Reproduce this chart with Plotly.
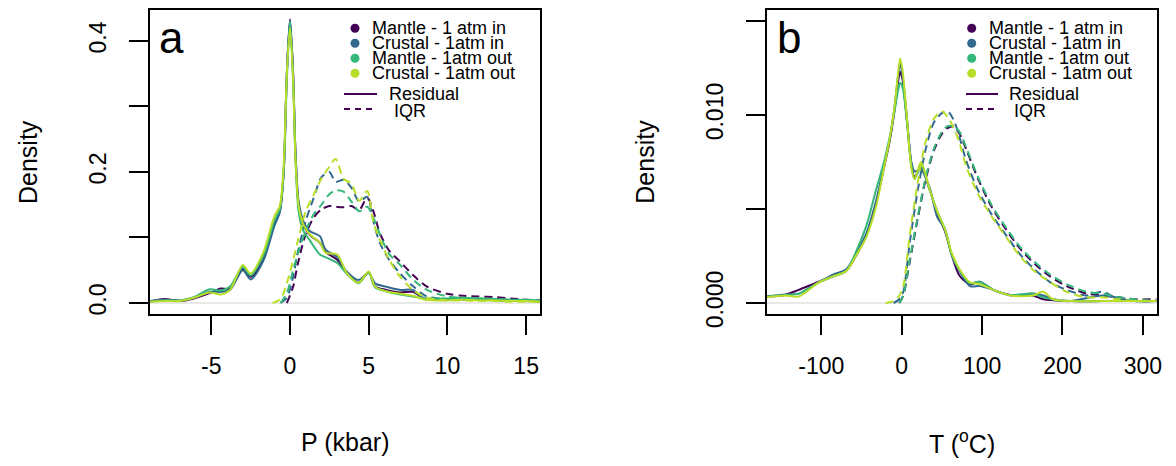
import plotly.graph_objects as go

W, H = 1176, 466
OFF = 8  # the page body adds an 8px margin; shift everything back by it

# ---- data: panel a (pressure residuals, kbar) ----
p_x = [-8.9, -8, -7, -6.1, -5.1, -4.4, -3.8, -3.0, -2.5, -1.7, -1.0, -0.65, -0.4, -0.2, 0,
       0.2, 0.35, 0.55, 0.85, 1.25, 1.9, 2.25, 3.0, 3.6, 4.35, 5.0, 5.4, 6.1, 7.0, 7.8, 8.6,
       10, 11, 12, 13, 14, 15, 15.9]
p_res_mantle_in = [0.002, 0.006, 0.003, 0.007, 0.015, 0.022, 0.022, 0.052, 0.04, 0.066, 0.12, 0.14,
                   0.2, 0.35, 0.433, 0.35, 0.23, 0.15, 0.12, 0.104, 0.092, 0.078, 0.066, 0.047, 0.031,
                   0.047, 0.025, 0.02, 0.016, 0.017, 0.006, 0.006, 0.005, 0.005, 0.006, 0.004, 0.003, 0.003]
p_res_crustal_in = [0.003, 0.005, 0.004, 0.008, 0.017, 0.017, 0.02, 0.05, 0.036, 0.064, 0.117, 0.138,
                    0.2, 0.35, 0.432, 0.35, 0.23, 0.155, 0.125, 0.11, 0.102, 0.082, 0.07, 0.048, 0.035,
                    0.046, 0.03, 0.025, 0.02, 0.02, 0.006, 0.005, 0.005, 0.006, 0.005, 0.004, 0.003, 0.003]
p_res_mantle_out = [0.002, 0.004, 0.004, 0.009, 0.021, 0.019, 0.025, 0.055, 0.042, 0.072, 0.125, 0.143,
                    0.2, 0.34, 0.43, 0.34, 0.22, 0.14, 0.11, 0.096, 0.074, 0.07, 0.061, 0.045, 0.03,
                    0.047, 0.024, 0.018, 0.013, 0.01, 0.007, 0.007, 0.008, 0.007, 0.006, 0.005, 0.005, 0.004]
p_res_crustal_out = [0.002, 0.003, 0.003, 0.008, 0.016, 0.013, 0.02, 0.058, 0.045, 0.077, 0.132, 0.148,
                     0.21, 0.35, 0.42, 0.34, 0.22, 0.148, 0.12, 0.105, 0.092, 0.077, 0.074, 0.046, 0.031,
                     0.048, 0.025, 0.018, 0.014, 0.011, 0.005, 0.004, 0.005, 0.004, 0.004, 0.003, 0.003, 0.002]

p_iqr_x = [-1.1, -0.6, -0.2, 0.2, 0.5, 1.0, 1.5, 2.0, 2.5, 2.9, 3.4, 3.9, 4.4, 4.9, 5.3, 5.7, 6.3,
           7.0, 7.8, 8.7, 10, 11, 12, 13, 14, 15, 15.9]
p_iqr_mantle_in = [None, None, 0, 0.025, 0.06, 0.105, 0.13, 0.143, 0.148, 0.147, 0.146, 0.148, 0.142,
                   0.161, 0.14, 0.107, 0.08, 0.063, 0.043, 0.025, 0.014, 0.011, 0.01, 0.009, 0.007, 0.005, 0.004]
p_iqr_crustal_in = [None, 0, 0.008, 0.04, 0.078, 0.125, 0.16, 0.192, 0.2, 0.185, 0.188, 0.176, 0.155,
                    0.162, 0.125, 0.092, 0.066, 0.045, 0.026, 0.01, 0.006, 0.005, 0.005, 0.004, 0.003, 0.003, 0.002]
p_iqr_mantle_out = [None, 0, 0.015, 0.05, 0.075, 0.11, 0.135, 0.15, 0.166, 0.172, 0.17, 0.155, 0.14,
                    0.147, 0.13, 0.105, 0.075, 0.058, 0.036, 0.02, 0.01, 0.008, 0.007, 0.006, 0.005, 0.004, 0.004]
p_iqr_crustal_out = [0, 0.006, 0.03, 0.065, 0.095, 0.14, 0.165, 0.19, 0.208, 0.22, 0.19, 0.182, 0.156,
                     0.171, 0.123, 0.097, 0.066, 0.04, 0.02, 0.008, 0.004, 0.004, 0.003, 0.003, 0.002, 0.002, 0.002]

# ---- data: panel b (temperature residuals, degC) ----
t_x = [-168, -145, -128, -103, -86, -69, -57, -44, -32, -22, -15, -9, -5, -2, 1, 7, 12, 16, 24, 35,
       44, 54, 62, 72, 85, 97, 114, 135, 163, 176, 188, 210, 250, 290, 317]
t_res_mantle_in = [0.00034, 0.00043, 0.0007, 0.00113, 0.0014, 0.00172, 0.0025, 0.0036, 0.0053, 0.0072,
                   0.0086, 0.0102, 0.0116, 0.0123, 0.0119, 0.0095, 0.0074, 0.0067, 0.0072, 0.006, 0.0048,
                   0.0038, 0.0026, 0.00145, 0.001, 0.00113, 0.0007, 0.00043, 0.0004, 0.0002, 0.00015,
                   0.0001, 0.0001, 0.0001, 0.0001]
t_res_crustal_in = [0.00034, 0.00045, 0.0005, 0.0011, 0.0015, 0.0018, 0.0026, 0.0037, 0.0054, 0.0073,
                    0.0087, 0.0104, 0.0119, 0.01275, 0.0121, 0.0096, 0.0075, 0.007, 0.0071, 0.0061, 0.0046,
                    0.0039, 0.0026, 0.0017, 0.0009, 0.0009, 0.0007, 0.0004, 0.0005, 0.0004, 0.0002,
                    0.0001, 0.0004, 0.0001, 0.0001]
t_res_mantle_out = [0.00034, 0.00043, 0.0005, 0.0011, 0.0014, 0.0017, 0.0027, 0.0041, 0.006, 0.0075,
                    0.0088, 0.0102, 0.0112, 0.0117, 0.0115, 0.0094, 0.0073, 0.0066, 0.0073, 0.006, 0.0049,
                    0.0039, 0.0026, 0.00175, 0.00105, 0.00113, 0.0007, 0.00043, 0.0005, 0.0003, 0.0002,
                    0.0001, 0.0001, 0.0001, 0.0001]
t_res_crustal_out = [0.0003, 0.0004, 0.00035, 0.0011, 0.0014, 0.0017, 0.0025, 0.0035, 0.0051, 0.0072,
                     0.0087, 0.0104, 0.012, 0.013, 0.0124, 0.0096, 0.0072, 0.0066, 0.0075, 0.006, 0.0049,
                     0.0039, 0.0027, 0.0018, 0.0011, 0.001, 0.0007, 0.0004, 0.0004, 0.0006, 0.0002,
                     0.0001, 0.0001, 0.0001, 0.0001]

t_iqr_x = [-20, -10, -3, 2, 10, 20, 30, 40, 50, 57, 65, 72, 80, 95, 112, 130, 147, 165, 185, 205,
           230, 250, 270, 290, 317]
t_iqr_mantle_in = [None, None, 0, 0.0004, 0.0022, 0.0045, 0.0066, 0.0081, 0.009, 0.0093, 0.0094, 0.009,
                   0.0082, 0.0066, 0.0051, 0.0039, 0.0029, 0.0021, 0.0014, 0.0009, 0.0005, 0.0004,
                   0.0003, 0.0002, 0.0002]
t_iqr_crustal_in = [None, 0, 0.0002, 0.0006, 0.0032, 0.006, 0.0082, 0.0096, 0.0101, 0.0102, 0.0097,
                    0.0088, 0.0076, 0.006, 0.0047, 0.0036, 0.0026, 0.0018, 0.0011, 0.0007, 0.0004,
                    0.0006, 0.0002, 0.0001, 0.0001]
t_iqr_mantle_out = [None, None, 0, 0.0004, 0.0023, 0.0046, 0.0067, 0.0082, 0.0091, 0.0094, 0.0094,
                    0.0091, 0.0083, 0.0067, 0.0052, 0.004, 0.003, 0.0022, 0.0015, 0.001, 0.0006,
                    0.0005, 0.0003, 0.0002, 0.0001]
t_iqr_crustal_out = [0, 0.0001, 0.0004, 0.0009, 0.0036, 0.0064, 0.0086, 0.0098, 0.0102, 0.0099, 0.0093,
                     0.0085, 0.0073, 0.0058, 0.0046, 0.0035, 0.0025, 0.0017, 0.0011, 0.0006, 0.0003,
                     0.0003, 0.0002, 0.0001, 0.0001]

group_names = ["Mantle - 1 atm in", "Crustal - 1atm in", "Mantle - 1atm out", "Crustal - 1atm out"]
colors = ["#440154", "#31688E", "#35B779", "#B8DE29"]
line_names = ["Residual", " IQR"]

p_ticks = [-5, 0, 5, 10, 15]
p_ticklabels = ["-5", "0", "5", "10", "15"]
t_ticks = [-100, 0, 100, 200, 300]
t_ticklabels = ["-100", "0", "100", "200", "300"]
p_yticks = [0, 0.2, 0.4]
p_yticklabels = ["0.0", "0.2", "0.4"]
p_yminor = [0.1, 0.3]
t_yticks = [0, 0.010]
t_yticklabels = ["0.000", "0.010"]
t_yminor = [0.005, 0.015]

FONT = "Liberation Sans, Arial, sans-serif"


def fx(px):
    return (px - OFF) / W


def fy(py):
    return 1 - (py - OFF) / H


fig = go.Figure()

panels = [
    ("x", "y", p_x, [p_res_mantle_in, p_res_crustal_in, p_res_mantle_out, p_res_crustal_out],
     p_iqr_x, [p_iqr_mantle_in, p_iqr_crustal_in, p_iqr_mantle_out, p_iqr_crustal_out]),
    ("x2", "y2", t_x, [t_res_mantle_in, t_res_crustal_in, t_res_mantle_out, t_res_crustal_out],
     t_iqr_x, [t_iqr_mantle_in, t_iqr_crustal_in, t_iqr_mantle_out, t_iqr_crustal_out]),
]

for xa, ya, rx, res, qx, iqr in panels:
    for i in range(4):
        fig.add_trace(go.Scatter(x=rx, y=res[i], mode="lines", xaxis=xa, yaxis=ya,
                                 line=dict(color=colors[i], width=2, shape="spline", smoothing=0.8),
                                 showlegend=False, hoverinfo="skip"))
        fig.add_trace(go.Scatter(x=qx, y=iqr[i], mode="lines", xaxis=xa, yaxis=ya,
                                 line=dict(color=colors[i], width=2, shape="spline", smoothing=0.8,
                                           dash="8px,5px"),
                                 showlegend=False, hoverinfo="skip"))

axis_common = dict(showline=True, mirror=True, linecolor="black", linewidth=1.6,
                   ticks="outside", ticklen=19, tickwidth=1.5, tickcolor="black",
                   showgrid=False, zeroline=False, automargin=False,
                   tickfont=dict(family=FONT, size=23, color="black"))
minor_common = dict(ticks="outside", ticklen=19, tickwidth=1.5, tickcolor="black", showgrid=False)

y_dom = [fy(314), fy(10)]
fig.update_layout(
    width=W, height=H,
    margin=dict(l=0, r=0, t=0, b=0, autoexpand=False),
    paper_bgcolor="white", plot_bgcolor="white",
    xaxis=dict(domain=[fx(150), fx(540)], range=[-8.89, 15.88], anchor="y",
               tickvals=p_ticks, ticktext=p_ticklabels, ticklabelstandoff=12, **axis_common),
    yaxis=dict(domain=y_dom, range=[-0.0168, 0.4473], anchor="x",
               tickvals=p_yticks, ticktext=p_yticklabels, tickangle=-90,
               minor=dict(tickvals=p_yminor, **minor_common),
               ticklabelstandoff=14, **axis_common),
    xaxis2=dict(domain=[fx(766.7), fx(1156.7)], range=[-167.9, 317.2], anchor="y2",
                tickvals=t_ticks, ticktext=t_ticklabels, ticklabelstandoff=12, **axis_common),
    yaxis2=dict(domain=y_dom, range=[-0.000585, 0.015585], anchor="x2",
                tickvals=t_yticks, ticktext=t_yticklabels, tickangle=-90,
                minor=dict(tickvals=t_yminor, **minor_common),
                ticklabelstandoff=14, **axis_common),
)

shapes = []
annotations = []

# light zero reference lines
for xa, ya in [("x", "y"), ("x2", "y2")]:
    shapes.append(dict(type="line", xref=xa + " domain", yref=ya, x0=0, x1=1, y0=0, y1=0,
                       line=dict(color="#e8e8e8", width=2), layer="below"))

# panel letters, axis titles, legends
panel_geo = [
    dict(left=150, right=540, letter="a", lx=157, marker_x=355, text_x=370,
         line_x0=344, line_x1=377, ltext_x=387, xtitle="P (kbar)"),
    dict(left=766.7, right=1156.7, letter="b", lx=775, marker_x=971.7, text_x=987,
         line_x0=966, line_x1=998, ltext_x=1007, xtitle="T (<sup>o</sup>C)"),
]
rows_y = [28.3, 43.3, 58.3, 73.3]
for g in panel_geo:
    annotations.append(dict(x=fx(g["lx"]), y=fy(38), xref="paper", yref="paper", text=g["letter"],
                            showarrow=False, xanchor="left", yanchor="middle",
                            font=dict(family=FONT, size=44, color="black")))
    annotations.append(dict(x=fx((g["left"] + g["right"]) / 2), y=fy(442), xref="paper", yref="paper",
                            text=g["xtitle"], showarrow=False, xanchor="center", yanchor="middle",
                            font=dict(family=FONT, size=25, color="black")))
    annotations.append(dict(x=fx(g["left"] - 122), y=fy(162), xref="paper", yref="paper",
                            text="Density", textangle=-90, showarrow=False,
                            xanchor="center", yanchor="middle",
                            font=dict(family=FONT, size=25, color="black")))
    for i, name in enumerate(group_names):
        r = 4.5
        shapes.append(dict(type="circle", xref="paper", yref="paper",
                           x0=fx(g["marker_x"] - r), x1=fx(g["marker_x"] + r),
                           y0=fy(rows_y[i] + r), y1=fy(rows_y[i] - r),
                           fillcolor=colors[i], line=dict(color=colors[i], width=0)))
        annotations.append(dict(x=fx(g["text_x"]), y=fy(rows_y[i]), xref="paper", yref="paper",
                                text=name, showarrow=False, xanchor="left", yanchor="middle",
                                font=dict(family=FONT, size=18, color="black")))
    for j, (lname, dash, ly) in enumerate(zip(line_names, ["solid", "6px,5px"], [94, 109])):
        shapes.append(dict(type="line", xref="paper", yref="paper",
                           x0=fx(g["line_x0"]), x1=fx(g["line_x1"]), y0=fy(ly), y1=fy(ly),
                           line=dict(color=colors[0], width=2, dash=dash)))
        annotations.append(dict(x=fx(g["ltext_x"]), y=fy(ly + 2 * j), xref="paper", yref="paper",
                                text=lname, showarrow=False, xanchor="left", yanchor="middle",
                                font=dict(family=FONT, size=18, color="black")))

fig.update_layout(shapes=shapes, annotations=annotations)

fig.write_html("out.html")
